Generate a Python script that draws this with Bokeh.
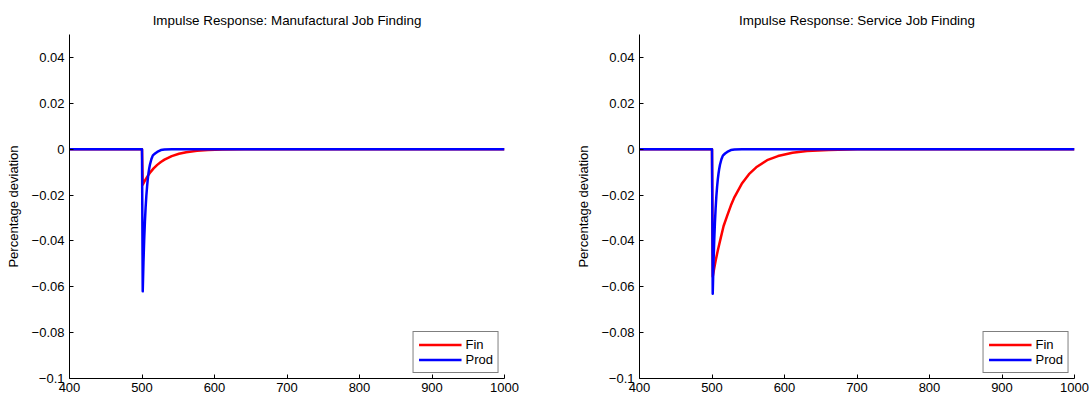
from bokeh.plotting import figure
from bokeh.layouts import row
from bokeh.models import FixedTicker, Legend, LegendItem
from bokeh.embed import file_html
from bokeh.resources import INLINE

# ---- data ----
titles = ["Impulse Response: Manufactural Job Finding", "Impulse Response: Service Job Finding"]
y_label = "Percentage deviation"
x_ticks = [400, 500, 600, 700, 800, 900, 1000]
y_ticks = [-0.1, -0.08, -0.06, -0.04, -0.02, 0, 0.02, 0.04]
y_tick_labels = ["\u22120.1", "\u22120.08", "\u22120.06", "\u22120.04", "\u22120.02", "0", "0.02", "0.04"]

fin_x_left = [400, 500, 501, 503, 505, 508, 512, 516, 521, 526, 531, 541, 551, 561, 576, 591, 611, 641, 701, 1000]
fin_left = [0, 0, -0.0155, -0.01428, -0.01316, -0.01165, -0.00989, -0.00840, -0.00685, -0.00559,
            -0.00456, -0.00303, -0.00201, -0.00134, -0.00073, -0.00039, -0.00017, -0.00005, 0, 0]

prod_x = [400, 500, 501, 502, 503, 504, 505, 506, 507, 508, 509, 510, 511, 513, 515, 518, 521, 526, 531, 541, 1000]
prod_left = [0, 0, -0.0620, -0.0496, -0.0397, -0.0317, -0.0254, -0.0203, -0.0163, -0.0130, -0.0104,
             -0.0083, -0.0067, -0.0043, -0.0027, -0.0019, -0.0012, -0.0004, -0.00015, -0.00002, 0]

fin_x_right = [400, 500, 501, 503, 505, 508, 512, 516, 521, 526, 531, 541, 551, 561, 576, 591, 611, 631, 661, 701, 751, 1000]
fin_right = [0, 0, -0.0555, -0.0520, -0.0487, -0.0442, -0.0388, -0.0335, -0.0290, -0.0246, -0.0209,
             -0.0151, -0.0109, -0.0079, -0.0048, -0.0030, -0.00155, -0.00081, -0.00031, -0.00008, -0.00002, 0]

prod_right = [0, 0, -0.0630, -0.0504, -0.0403, -0.0323, -0.0258, -0.0206, -0.0165, -0.0132, -0.0106,
              -0.0085, -0.0068, -0.0044, -0.0028, -0.0019, -0.0012, -0.0004, -0.00015, -0.00002, 0]

FONT = "Liberation Sans"


def make_panel(title, fx, fy, px, py, width, border_left, border_right):
    p = figure(width=width, height=396, x_range=(400, 1000), y_range=(-0.1, 0.05),
               output_backend="svg", toolbar_location=None,
               min_border_left=border_left, min_border_right=border_right,
               min_border_top=34, min_border_bottom=18)
    p.title.text = title
    p.title.align = "center"
    p.title.text_font = FONT
    p.title.text_font_size = "13.4px"
    p.title.text_font_style = "normal"
    p.title.text_color = "black"
    p.title.standoff = 14
    p.outline_line_color = None
    p.xgrid.visible = False
    p.ygrid.visible = False

    r1 = p.line(fx, fy, line_color="#ff0000", line_width=2.5, line_join="round")
    r2 = p.line(px, py, line_color="#0000ff", line_width=2.5, line_join="round")

    for ax in (p.xaxis[0], p.yaxis[0]):
        ax.axis_line_color = "black"
        ax.major_tick_line_color = "black"
        ax.major_tick_in = 4
        ax.major_tick_out = 0
        ax.minor_tick_line_color = None
        ax.major_label_text_font = FONT
        ax.major_label_text_font_size = "13px"
        ax.major_label_text_color = "black"
    p.xaxis[0].ticker = FixedTicker(ticks=x_ticks)
    p.xaxis[0].major_label_standoff = 4
    p.yaxis[0].ticker = FixedTicker(ticks=y_ticks)
    p.yaxis[0].major_label_overrides = {t: s for t, s in zip(y_ticks, y_tick_labels)}
    p.yaxis[0].major_label_standoff = 5
    p.yaxis[0].axis_label = y_label
    p.yaxis[0].axis_label_text_font = FONT
    p.yaxis[0].axis_label_text_font_size = "13px"
    p.yaxis[0].axis_label_text_font_style = "normal"
    p.yaxis[0].axis_label_text_color = "black"
    p.yaxis[0].axis_label_standoff = 8

    legend = Legend(items=[LegendItem(label="Fin", renderers=[r1]),
                           LegendItem(label="Prod", renderers=[r2])],
                    location="bottom_right")
    legend.margin = 5
    legend.padding = 5
    legend.spacing = 0
    legend.glyph_width = 43
    legend.glyph_height = 15
    legend.label_height = 15
    legend.label_standoff = 4
    legend.label_text_font = FONT
    legend.label_text_font_size = "13px"
    legend.label_text_color = "black"
    legend.border_line_color = "black"
    legend.border_line_width = 1
    legend.background_fill_alpha = 1
    p.add_layout(legend)
    return p


p1 = make_panel(titles[0], fin_x_left, fin_left, prod_x, prod_left, 570, 69, 66)
p2 = make_panel(titles[1], fin_x_right, fin_right, prod_x, prod_right, 520, 69, 16)

layout = row(p1, p2)
open("out.html", "w").write(file_html(layout, INLINE))
